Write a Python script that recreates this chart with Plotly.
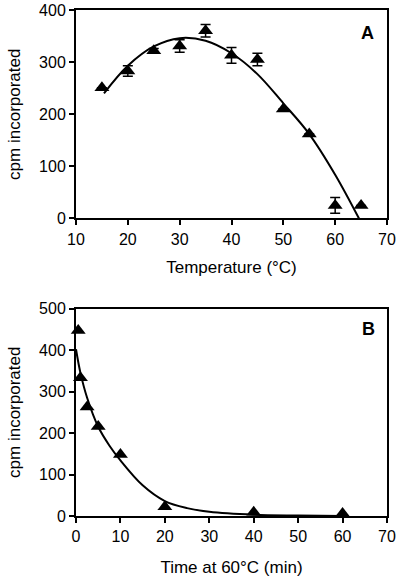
import plotly.graph_objects as go

# panel A: temperature dependence
temp = [15, 20, 25, 30, 35, 40, 45, 50, 55, 60, 65]
cpm_temp = [251, 283, 322, 331, 360, 313, 305, 210, 162, 25, 25]
err_temp = [0, 10, 4, 12, 12, 15, 12, 0, 0, 15, 0]
# fitted curve
fit_temp_x = [15.4, 20, 25, 30, 35, 40, 45, 50, 55, 60, 64.6]
fit_temp_y = [240, 293, 330, 346, 341, 317, 277, 221, 162, 84, 0]

# panel B: heat inactivation at 60 C
time = [0.5, 1, 2.5, 5, 10, 20, 40, 60]
cpm_time = [447, 333, 263, 216, 148, 22, 9, 6]
fit_time_x = [0, 1, 2.5, 5, 7.5, 10, 15, 20, 25, 30, 40, 50, 60]
fit_time_y = [402, 345, 285, 215, 170, 134, 74, 36, 19, 10, 3, 1, 0]

FONT = "Liberation Sans, Arial, sans-serif"

fig = go.Figure()

fig.add_trace(go.Scatter(
    x=fit_temp_x, y=fit_temp_y, mode='lines',
    line=dict(color='black', width=2, shape='spline', smoothing=1.0),
    xaxis='x', yaxis='y', hoverinfo='skip'
))
fig.add_trace(go.Scatter(
    x=temp, y=cpm_temp, mode='markers',
    marker=dict(symbol='triangle-up', size=13, color='black'),
    error_y=dict(type='data', array=err_temp, color='black', thickness=1.5, width=5),
    xaxis='x', yaxis='y', cliponaxis=False
))

fig.add_trace(go.Scatter(
    x=fit_time_x, y=fit_time_y, mode='lines',
    line=dict(color='black', width=2, shape='spline', smoothing=1.0),
    xaxis='x2', yaxis='y2', hoverinfo='skip'
))
fig.add_trace(go.Scatter(
    x=time, y=cpm_time, mode='markers',
    marker=dict(symbol='triangle-up', size=13, color='black'),
    xaxis='x2', yaxis='y2', cliponaxis=False
))

axis_style = dict(
    showline=True, mirror=True, linecolor='black', linewidth=2,
    ticks='outside', ticklen=5, tickwidth=1.5, tickcolor='black',
    showgrid=False, zeroline=False, automargin=False,
    tickfont=dict(family=FONT, size=16, color='black'),
)

fig.update_layout(
    width=400, height=581,
    margin=dict(l=76, r=13, t=10, b=65),
    paper_bgcolor='white', plot_bgcolor='white',
    showlegend=False,
    font=dict(family=FONT, color='black'),
    xaxis=dict(axis_style, domain=[0, 1], anchor='y', range=[10, 70], dtick=10,
               title=dict(text='Temperature (°C)', font=dict(family=FONT, size=17), standoff=14)),
    yaxis=dict(axis_style, domain=[0.588, 1], anchor='x', range=[0, 400], dtick=100,
               title=dict(text='cpm incorporated', font=dict(family=FONT, size=17), standoff=14)),
    xaxis2=dict(axis_style, domain=[0, 1], anchor='y2', range=[0, 70], dtick=10,
                title=dict(text='Time at 60°C (min)', font=dict(family=FONT, size=17), standoff=17)),
    yaxis2=dict(axis_style, domain=[0, 0.41], anchor='x2', range=[0, 500], dtick=100,
                title=dict(text='cpm incorporated', font=dict(family=FONT, size=17), standoff=14)),
    annotations=[
        dict(text='<b>A</b>', x=66.3, y=356, xref='x', yref='y', showarrow=False,
             font=dict(family=FONT, size=18, color='black')),
        dict(text='<b>B</b>', x=65.9, y=450, xref='x2', yref='y2', showarrow=False,
             font=dict(family=FONT, size=18, color='black')),
    ],
)

# drop the browser's default 8px page margin so the figure sits at 0,0
fig.write_html("out.html", config={'displayModeBar': False},
               post_script="document.body.style.margin='0';")
